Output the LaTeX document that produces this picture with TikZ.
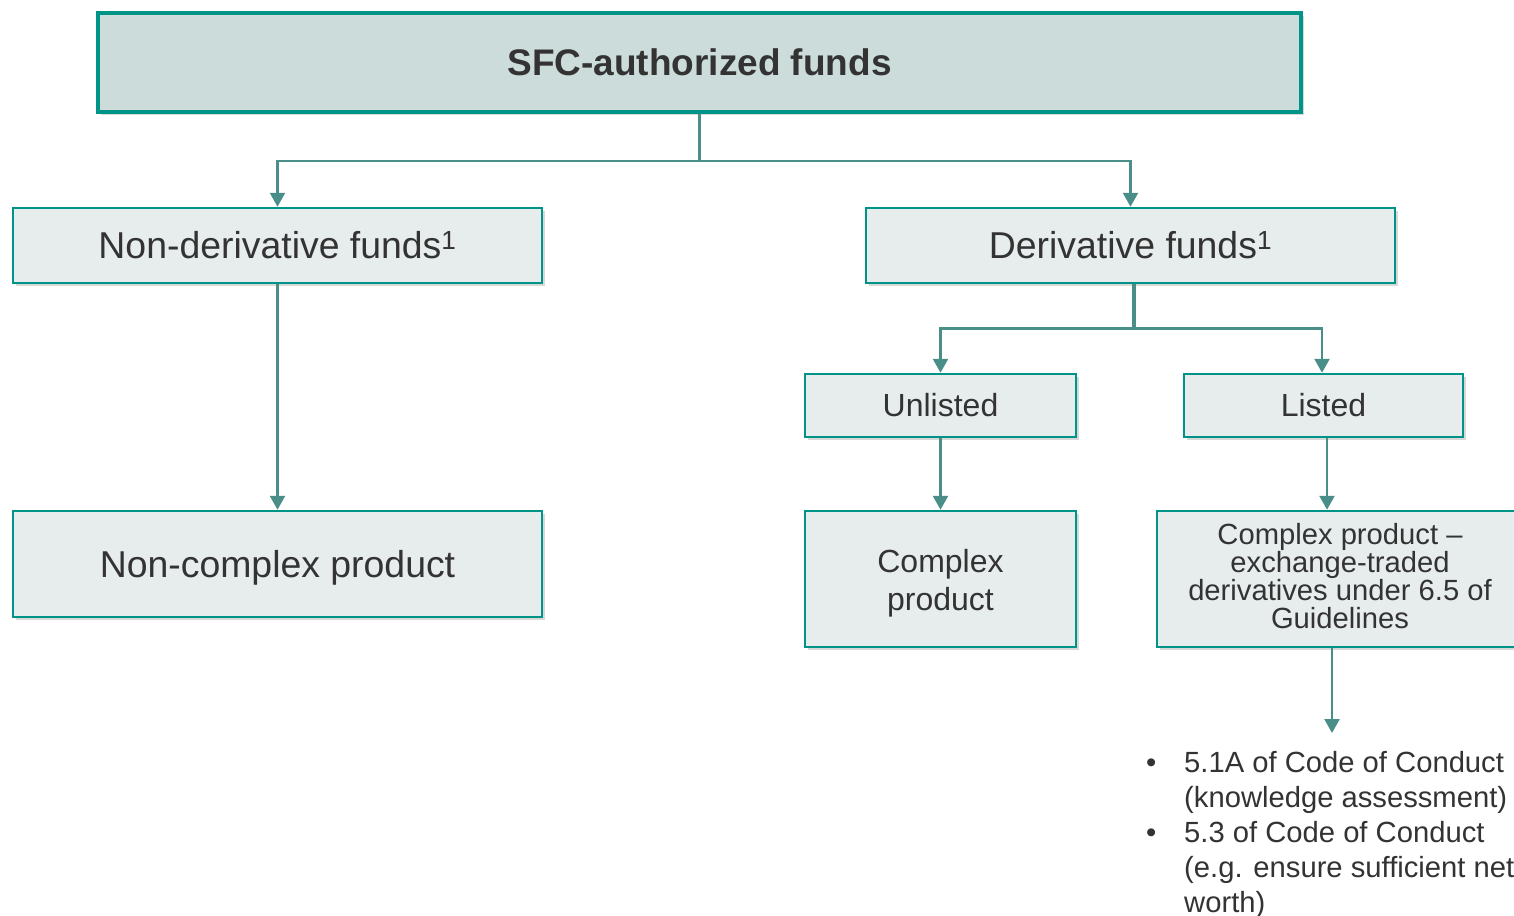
\documentclass[tikz,border=0pt]{standalone}
\usepackage{fontspec}
\setmainfont{Liberation Sans}
\usetikzlibrary{arrows.meta,shadows}
\definecolor{tealborder}{RGB}{0,148,136}
\definecolor{topfill}{RGB}{204,220,218}
\definecolor{boxfill}{RGB}{231,236,236}
\definecolor{connc}{RGB}{74,142,137}
\definecolor{txt}{RGB}{51,51,51}
\tikzset{
  box/.style={draw=tealborder, fill=boxfill, line width=2.5pt, inner sep=0pt, align=center, text=txt,
    drop shadow={opacity=0.3, shadow xshift=2.5pt, shadow yshift=-3pt}},
  topbox/.style={box, fill=topfill, line width=4pt},
  conn/.style={draw=connc, line width=2.5pt, -{Triangle[length=14pt,width=15pt]}},
  bigfont/.style={font=\fontsize{37.4}{44}\selectfont},
  midfont/.style={font=\fontsize{32}{38}\selectfont},
  smallfont/.style={font=\fontsize{29.2}{28}\selectfont},
}
\newcommand{\shiftedtext}[3]{\raisebox{#1}[\height][\depth]{\parbox{#2}{\centering #3}}}
\begin{document}
\begin{tikzpicture}[x=1pt,y=-1pt]
\clip (0,0) rectangle (1514,915);
\fill[white] (0,0) rectangle (1514,915);

\node[topbox, minimum width=1203pt, minimum height=99pt, font=\fontsize{37}{44}\selectfont\bfseries] (top) at (699.5,62.5) {SFC-authorized funds};

\node[box, bigfont, minimum width=529pt, minimum height=75pt] (nonderiv) at (277.5,245.5) {Non-derivative funds\textsuperscript{1}};
\node[box, bigfont, minimum width=529pt, minimum height=75pt] (deriv) at (1130.5,245.5) {Derivative funds\textsuperscript{1}};

\node[box, midfont, minimum width=271pt, minimum height=63pt] (unlisted) at (940.5,405.5) {Unlisted};
\node[box, midfont, minimum width=279pt, minimum height=63pt] (listed) at (1323.5,405.5) {Listed};

\node[box, bigfont, minimum width=529pt, minimum height=106pt] (noncomplex) at (277.5,564) {\raisebox{-4pt}[\height][\depth]{Non-complex product}};
\node[box, midfont, minimum width=271pt, minimum height=136pt] (complex) at (940.5,579) {\shiftedtext{-4pt}{260pt}{Complex\\product}};
\node[box, smallfont, minimum width=366pt, minimum height=136pt] (etd) at (1340,579) {\shiftedtext{3pt}{360pt}{Complex product --\\exchange-traded\\derivatives under 6.5 of\\Guidelines}};

\node[anchor=north west, inner sep=0pt, align=left, text=txt, font=\fontsize{29.2}{35}\selectfont] (bullets) at (1146,751)
{\makebox[38pt][l]{•}5.1A of Code of Conduct\\
\hspace*{38pt}(knowledge assessment)\\
\makebox[38pt][l]{•}5.3 of Code of Conduct\\
\hspace*{38pt}(e.g. ensure sufficient net\\
\hspace*{38pt}worth)};
\coordinate (bt) at (1332,733);

\draw[conn] (top.south) -- ++(0,47) -| (nonderiv.north);
\draw[conn] (top.south) -- ++(0,47) -| (deriv.north);
\draw[conn] (nonderiv.south) -- (noncomplex.north);
\draw[draw=connc, line width=3.5pt] ([xshift=3.5pt]deriv.south) -- ++(0,44);
\draw[conn] ([xshift=3.5pt]deriv.south) -- ++(0,44) -| (unlisted.north);
\draw[conn] ([xshift=3.5pt]deriv.south) -- ++(0,44) -| ([xshift=-1.5pt]listed.north);
\draw[conn] (unlisted.south) -- (complex.north);
\draw[conn] ([xshift=3.5pt]listed.south) -- ([xshift=3.5pt]listed.south |- etd.north);
\draw[conn] (etd.south -| bt) -- (bt);
\end{tikzpicture}
\end{document}
